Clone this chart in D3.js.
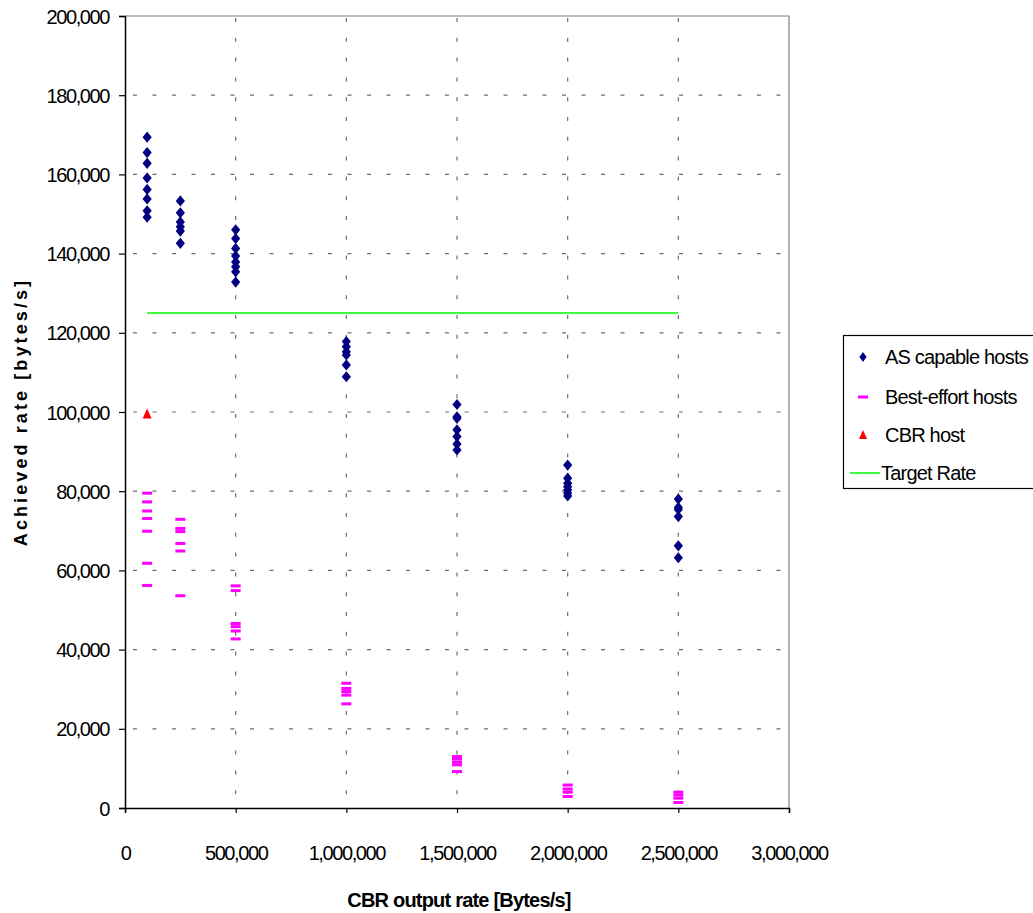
<!DOCTYPE html>
<html>
<head>
<meta charset="utf-8">
<script src="https://cdn.jsdelivr.net/npm/d3@7"></script>
<style>
  html, body { margin: 0; padding: 0; background: #fff; }
  svg { display: block; }
  text { font-family: "Liberation Sans", Arial, sans-serif; fill: #000; }
</style>
</head>
<body>
<svg id="chart" width="1033" height="913"></svg>
<script>
// CBR output rates tested (Bytes/s)
const cbrRates = [100000, 250000, 500000, 1000000, 1500000, 2000000, 2500000];

// Achieved rate of each AS capable host, per CBR rate (bytes/s)
const asCapable = [
  [169400, 165500, 162800, 159100, 156200, 153800, 150800, 149200],
  [153300, 150300, 148000, 146800, 145700, 142600],
  [146000, 143800, 141300, 139400, 137900, 136700, 135400, 132800],
  [117800, 116500, 115200, 114400, 111900, 108900],
  [101900, 98800, 98400, 95500, 93800, 91900, 90400],
  [86600, 83300, 82000, 81100, 80300, 79500, 78800],
  [78000, 75900, 75400, 73600, 66200, 63200]
];

// Achieved rate of each best-effort host, per CBR rate (bytes/s)
const bestEffort = [
  [79500, 77300, 75000, 73100, 69900, 61800, 56200],
  [72900, 70600, 69800, 66800, 64900, 53600],
  [56100, 54900, 46600, 45800, 44700, 42700],
  [31500, 30200, 29400, 28500, 26300],
  [13000, 12400, 11600, 10900, 9200],
  [5800, 4800, 4000, 2900],
  [4000, 3300, 2500, 1400]
];

// The CBR host itself
const cbrHostX = [100000];
const cbrHostY = [99500];

// Target rate line
const targetX = [100000, 2500000];
const targetRate = 125000;

const xTicks = [0, 500000, 1000000, 1500000, 2000000, 2500000, 3000000];
const yTicks = [0, 20000, 40000, 60000, 80000, 100000, 120000, 140000, 160000, 180000, 200000];

const legendLabels = ["AS capable hosts", "Best-effort hosts", "CBR host", "Target Rate"];

const svg = d3.select("#chart");
const plot = { left: 125, top: 16, right: 789, bottom: 808 };

const x = d3.scaleLinear().domain([0, 3000000]).range([plot.left, plot.right]);
const y = d3.scaleLinear().domain([0, 200000]).range([plot.bottom, plot.top]);
const fmt = d3.format(",");

// grid
const grid = svg.append("g");
grid.selectAll("line.v").data(xTicks.slice(1, -1)).join("line")
  .attr("x1", d => x(d)).attr("x2", d => x(d))
  .attr("y1", plot.top).attr("y2", plot.bottom)
  .attr("stroke", "#6e6e6e").attr("stroke-width", 1.2)
  .attr("stroke-dasharray", "4,15.8").attr("stroke-dashoffset", -2);
grid.selectAll("line.h").data(yTicks.slice(1, -1)).join("line")
  .attr("x1", plot.left).attr("x2", plot.right)
  .attr("y1", d => y(d)).attr("y2", d => y(d))
  .attr("stroke", "#6e6e6e").attr("stroke-width", 1.2)
  .attr("stroke-dasharray", "4,15.5").attr("stroke-dashoffset", -8);

// plot frame (top and right)
svg.append("path")
  .attr("d", `M${plot.left},${plot.top}H${plot.right}V${plot.bottom}`)
  .attr("fill", "none").attr("stroke", "#808080").attr("stroke-width", 1.2);

// axes
const xAxis = d3.axisBottom(x).tickValues(xTicks).tickFormat(fmt).tickSize(5).tickPadding(33);
const yAxis = d3.axisLeft(y).tickValues(yTicks).tickFormat(fmt).tickSize(6).tickPadding(10);

const gx = svg.append("g").attr("transform", `translate(0,${plot.bottom})`).call(xAxis);
const gy = svg.append("g").attr("transform", `translate(${plot.left},0)`).call(yAxis);
[gx, gy].forEach(g => {
  g.select(".domain").attr("stroke", "#000").attr("stroke-width", 1.5);
  g.selectAll(".tick line").attr("stroke", "#000").attr("stroke-width", 1.2);
  g.selectAll(".tick text")
    .style("font-family", "'Liberation Sans', Arial, sans-serif")
    .style("font-size", "20px").style("letter-spacing", "-1.4px").attr("fill", "#000");
});
gx.selectAll(".tick text").attr("dy", "0.71em");
gy.selectAll(".tick text").attr("dy", "0.35em");

// axis titles
svg.append("text")
  .attr("x", x(1500000) + 2).attr("y", 907)
  .attr("text-anchor", "middle")
  .style("font-size", "20px").style("font-weight", "bold").style("letter-spacing", "-0.8px")
  .text("CBR output rate [Bytes/s]");
svg.append("text")
  .attr("transform", `translate(27,${(plot.top + plot.bottom) / 2}) rotate(-90)`)
  .attr("text-anchor", "middle")
  .style("font-size", "18px").style("font-weight", "bold").style("letter-spacing", "3.1px")
  .text("Achieved rate [bytes/s]");

// marker shapes
const diamond = (cx, cy, w = 4.6, h = 5.6) => `M${cx},${cy - h}L${cx + w},${cy}L${cx},${cy + h}L${cx - w},${cy}Z`;
const triangle = (cx, cy, w = 4.5, h = 9) => `M${cx},${cy - h / 2 - 1}L${cx + w},${cy + h / 2}L${cx - w},${cy + h / 2}Z`;

// target rate line
svg.append("line")
  .attr("x1", x(targetX[0])).attr("x2", x(targetX[1]))
  .attr("y1", y(targetRate)).attr("y2", y(targetRate))
  .attr("stroke", "#00ff00").attr("stroke-width", 1.5);

// best-effort hosts
const bePts = bestEffort.flatMap((vals, i) => vals.map(v => ({ x: cbrRates[i], y: v })));
svg.append("g").selectAll("rect").data(bePts).join("rect")
  .attr("x", d => x(d.x) - 5).attr("y", d => y(d.y) - 1.5)
  .attr("width", 10).attr("height", 3)
  .attr("fill", "#ff00ff");

// AS capable hosts
const asPts = asCapable.flatMap((vals, i) => vals.map(v => ({ x: cbrRates[i], y: v })));
svg.append("g").selectAll("path").data(asPts).join("path")
  .attr("d", d => diamond(x(d.x), y(d.y)))
  .attr("fill", "#000080");

// CBR host
svg.append("g").selectAll("path").data(cbrHostX.map((v, i) => ({ x: v, y: cbrHostY[i] }))).join("path")
  .attr("d", d => triangle(x(d.x), y(d.y)))
  .attr("fill", "#ff0000");

// legend
const lg = svg.append("g");
lg.append("rect").attr("x", 843.5).attr("y", 335.5).attr("width", 200).attr("height", 153)
  .attr("fill", "#fff").attr("stroke", "#000").attr("stroke-width", 1.2);
const rowsY = [357, 397, 435, 473];
const lx = 863;
lg.append("path").attr("d", diamond(lx, rowsY[0], 3.6, 5)).attr("fill", "#000080");
lg.append("rect").attr("x", lx - 5).attr("y", rowsY[1] - 1.5).attr("width", 10).attr("height", 3).attr("fill", "#ff00ff");
lg.append("path").attr("d", triangle(lx, rowsY[2], 4, 8)).attr("fill", "#ff0000");
lg.append("line").attr("x1", 850).attr("x2", 880).attr("y1", rowsY[3]).attr("y2", rowsY[3])
  .attr("stroke", "#00ff00").attr("stroke-width", 1.5);
lg.selectAll("text").data(legendLabels).join("text")
  .attr("x", (d, i) => i === 3 ? 881 : 885)
  .attr("y", (d, i) => rowsY[i]).attr("dy", "0.35em")
  .style("font-size", "20px").style("letter-spacing", "-0.8px")
  .text(d => d);
</script>
</body>
</html>
